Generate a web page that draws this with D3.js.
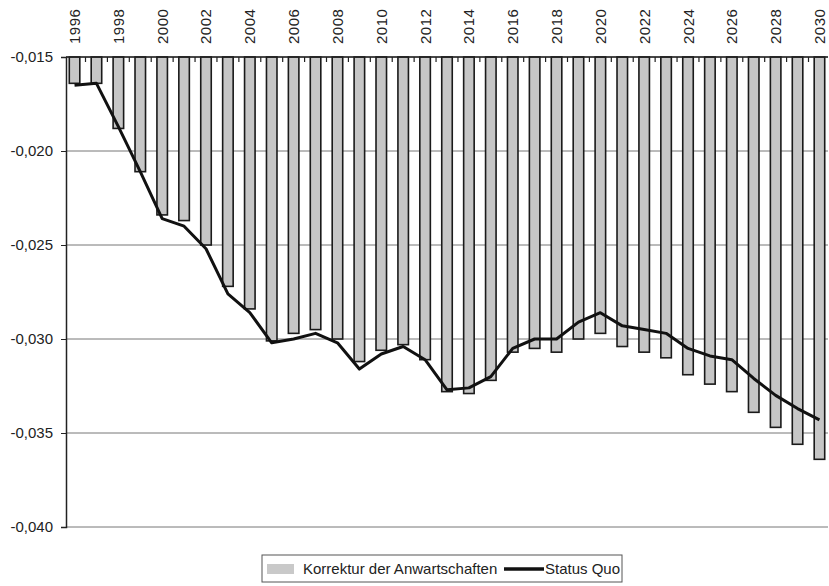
<!DOCTYPE html>
<html>
<head>
<meta charset="utf-8">
<script src="https://cdn.jsdelivr.net/npm/d3@7"></script>
<style>
  body { margin: 0; background: #fff; }
  svg text { font-family: "Liberation Sans", Arial, sans-serif; fill: #222; }
</style>
</head>
<body>
<div id="chart"></div>
<script>
var years = d3.range(1996, 2031);
var korrektur = [-0.0164, -0.0164, -0.0188, -0.0211, -0.0234, -0.0237, -0.0250, -0.0272, -0.0284, -0.0301,
  -0.0297, -0.0295, -0.0300, -0.0312, -0.0306, -0.0303, -0.0311, -0.0328, -0.0329, -0.0322,
  -0.0307, -0.0305, -0.0307, -0.0300, -0.0297, -0.0304, -0.0307, -0.0310, -0.0319, -0.0324,
  -0.0328, -0.0339, -0.0347, -0.0356, -0.0364];
var statusQuo = [-0.0165, -0.0164, -0.0187, -0.0211, -0.0236, -0.0240, -0.0252, -0.0276, -0.0286, -0.0302,
  -0.0300, -0.0297, -0.0302, -0.0316, -0.0308, -0.0304, -0.0311, -0.0327, -0.0326, -0.0320,
  -0.0305, -0.0300, -0.0300, -0.0291, -0.0286, -0.0293, -0.0295, -0.0297, -0.0305, -0.0309,
  -0.0311, -0.0321, -0.0330, -0.0337, -0.0343];
var yTicks = [-0.015, -0.020, -0.025, -0.030, -0.035, -0.040];

var W = 829, H = 586;
var margin = {top: 57, right: 1, bottom: 59, left: 66},
    width = W - margin.left - margin.right,
    height = H - margin.top - margin.bottom;

var svg = d3.select("#chart").append("svg")
    .attr("width", W).attr("height", H);
var g = svg.append("g")
    .attr("transform", "translate(" + margin.left + "," + margin.top + ")");

var xs = d3.scaleBand().domain(years).range([0, width])
    .paddingInner(0.52).paddingOuter(0.15);
var ys = d3.scaleLinear().domain([-0.040, -0.015]).range([height, 0]);
var fmt = function(d){ return d3.format(".3f")(d).replace(".", ",").replace("−", "-"); };

// gridlines
g.append("g").selectAll("line").data(yTicks).join("line")
    .attr("x1", 0).attr("x2", width)
    .attr("y1", d => ys(d)).attr("y2", d => ys(d))
    .attr("stroke", "#777").attr("stroke-width", 1);

// bars hang from the top
g.append("g").selectAll("rect").data(korrektur).join("rect")
    .attr("x", (d, i) => xs(years[i]))
    .attr("width", xs.bandwidth())
    .attr("y", ys(-0.015))
    .attr("height", d => ys(d) - ys(-0.015))
    .attr("fill", "#c6c6c6")
    .attr("stroke", "#1a1a1a").attr("stroke-width", 1.6);

// status quo line
var line = d3.line()
    .x((d, i) => xs(years[i]) + xs.bandwidth() / 2)
    .y(d => ys(d));
g.append("path").datum(statusQuo)
    .attr("d", line)
    .attr("fill", "none").attr("stroke", "#111")
    .attr("stroke-width", 3).attr("stroke-linejoin", "round");

// top axis line with category ticks
g.append("line").attr("x1", 0).attr("x2", width).attr("y1", 0).attr("y2", 0)
    .attr("stroke", "#222").attr("stroke-width", 1.5);
g.append("g").selectAll("line").data(years.slice(1)).join("line")
    .attr("x1", d => xs(d) - xs.step() * xs.paddingInner() / 2)
    .attr("x2", d => xs(d) - xs.step() * xs.paddingInner() / 2)
    .attr("y1", 0).attr("y2", 5)
    .attr("stroke", "#222").attr("stroke-width", 1.2);

// year labels
g.append("g").selectAll("text").data(years.filter(d => d % 2 === 0)).join("text")
    .attr("transform", d => "translate(" + (xs(d) + xs.bandwidth() / 2 + 5.5) + "," + (-13) + ") rotate(-90)")
    .attr("text-anchor", "start")
    .style("font-size", "15px")
    .style("letter-spacing", "0.5px")
    .text(d => d);

// y axis
var yAxis = g.append("g")
    .call(d3.axisLeft(ys).tickValues(yTicks).tickSize(5).tickPadding(8).tickFormat(fmt));
yAxis.select(".domain").attr("stroke", "#222").attr("stroke-width", 1.5);
yAxis.selectAll(".tick line").attr("stroke", "#222");
yAxis.selectAll("text").style("font-size", "15px").attr("fill", "#222");

// legend
var lg = svg.append("g").attr("transform", "translate(262,555)");
lg.append("rect").attr("width", 360).attr("height", 27)
    .attr("fill", "#fff").attr("stroke", "#555").attr("stroke-width", 1);
lg.append("rect").attr("x", 5).attr("y", 9).attr("width", 27).attr("height", 10)
    .attr("fill", "#c9c9c9");
lg.append("text").attr("x", 41).attr("y", 19).style("font-size", "15px")
    .text("Korrektur der Anwartschaften");
lg.append("line").attr("x1", 242).attr("x2", 282).attr("y1", 14).attr("y2", 14)
    .attr("stroke", "#111").attr("stroke-width", 3.5);
lg.append("text").attr("x", 283).attr("y", 19).style("font-size", "15px")
    .text("Status Quo");
</script>
</body>
</html>
